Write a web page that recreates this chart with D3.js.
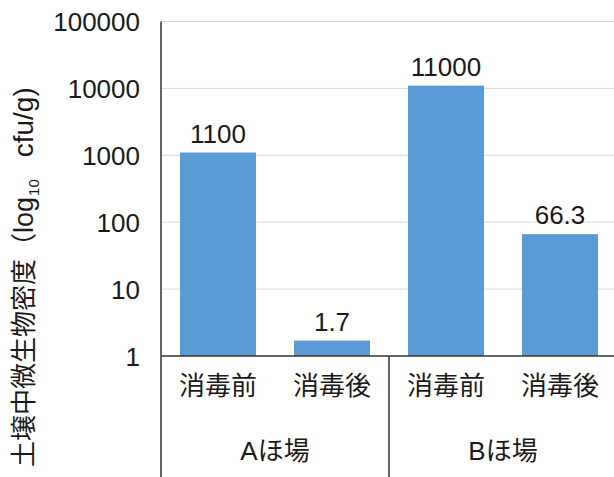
<!DOCTYPE html>
<html>
<head>
<meta charset="utf-8">
<script src="https://cdn.jsdelivr.net/npm/d3@7"></script>
<style>
  body { margin: 0; background: #fff; }
  text { font-family: "Liberation Sans", "Noto Sans CJK JP", sans-serif; fill: #1a1a1a; }
</style>
</head>
<body>
<script>
// chart data
const fields = ['Aほ場', 'Bほ場'];
const treatments = ['消毒前', '消毒後'];
const values = [1100, 1.7, 11000, 66.3];
const valueLabels = ['1100', '1.7', '11000', '66.3'];
const yTicks = [1, 10, 100, 1000, 10000, 100000];

const W = 614, H = 477;
const plot = { left: 161, right: 617, top: 21.5, bottom: 356 };

const svg = d3.select('body').append('svg')
    .attr('width', W)
    .attr('height', H);

// one row per bar
const rows = [];
fields.forEach((f, i) => treatments.forEach((t, j) => {
    const k = i * treatments.length + j;
    rows.push({ key: f + t, field: f, treatment: t, value: values[k], label: valueLabels[k] });
}));

const x = d3.scaleBand()
    .domain(rows.map(d => d.key))
    .range([plot.left, plot.right])
    .paddingInner(0.333)
    .paddingOuter(0.1665);

const y = d3.scaleLog()
    .domain([1, 100000])
    .range([plot.bottom, plot.top]);

// gridlines
svg.append('g')
    .selectAll('line')
    .data(yTicks.slice(1))
    .enter()
    .append('line')
    .attr('x1', plot.left)
    .attr('x2', W)
    .attr('y1', d => y(d))
    .attr('y2', d => y(d))
    .style('stroke', '#d9d9d9')
    .style('stroke-width', 1);

// y axis tick labels
const yAxis = d3.axisLeft(y)
    .tickValues(yTicks)
    .tickFormat(d3.format('d'))
    .tickSize(0)
    .tickPadding(21);

const yG = svg.append('g')
    .attr('transform', `translate(${plot.left},0)`)
    .call(yAxis);
yG.select('.domain').remove();
yG.selectAll('text')
    .style('font-size', '26px')
    .attr('dy', '0.35em');

// bars
svg.selectAll('rect.bar')
    .data(rows)
    .enter()
    .append('rect')
    .attr('class', 'bar')
    .attr('x', d => x(d.key))
    .attr('y', d => y(d.value))
    .attr('width', x.bandwidth())
    .attr('height', d => y(1) - y(d.value))
    .style('fill', '#5b9bd5');

// value labels
svg.selectAll('text.val')
    .data(rows)
    .enter()
    .append('text')
    .attr('class', 'val')
    .attr('x', d => x(d.key) + x.bandwidth() / 2)
    .attr('y', d => y(d.value) - 10)
    .attr('text-anchor', 'middle')
    .style('font-size', '26px')
    .text(d => d.label);

// axis lines
const axisColor = '#333';
svg.append('line')
    .attr('x1', plot.left).attr('x2', W)
    .attr('y1', plot.bottom).attr('y2', plot.bottom)
    .style('stroke', axisColor).style('stroke-width', 1.5);
svg.append('line')
    .attr('x1', plot.left).attr('x2', plot.left)
    .attr('y1', plot.top).attr('y2', H)
    .style('stroke', axisColor).style('stroke-width', 1.5);

// group separators
const step = x.step();
fields.slice(1).forEach((f, i) => {
    const sx = plot.left + step * treatments.length * (i + 1);
    svg.append('line')
        .attr('x1', sx).attr('x2', sx)
        .attr('y1', plot.bottom).attr('y2', H)
        .style('stroke', axisColor).style('stroke-width', 1.5);
});

// treatment labels
svg.selectAll('text.cat')
    .data(rows)
    .enter()
    .append('text')
    .attr('class', 'cat')
    .attr('x', d => x(d.key) + x.bandwidth() / 2)
    .attr('y', 386)
    .attr('dy', '0.35em')
    .attr('text-anchor', 'middle')
    .style('font-size', '26px')
    .text(d => d.treatment);

// field labels
svg.selectAll('text.field')
    .data(fields)
    .enter()
    .append('text')
    .attr('class', 'field')
    .attr('x', (d, i) => plot.left + step * treatments.length * (i + 0.5))
    .attr('y', 451)
    .attr('dy', '0.35em')
    .attr('text-anchor', 'middle')
    .style('font-size', '26px')
    .text(d => d);

// y axis title
const title = svg.append('text')
    .attr('transform', 'translate(33,467) rotate(-90)')
    .attr('text-anchor', 'start')
    .style('font-size', '26px');
title.append('tspan').text('土壌中微生物密度（');
title.append('tspan').style('font-size', '27px').text('log');
title.append('tspan').attr('dy', 6).attr('dx', 1).style('font-size', '15px').text('10');
title.append('tspan').attr('dy', -6).attr('dx', 22).style('font-size', '28px').text('cfu/g)');
</script>
</body>
</html>
